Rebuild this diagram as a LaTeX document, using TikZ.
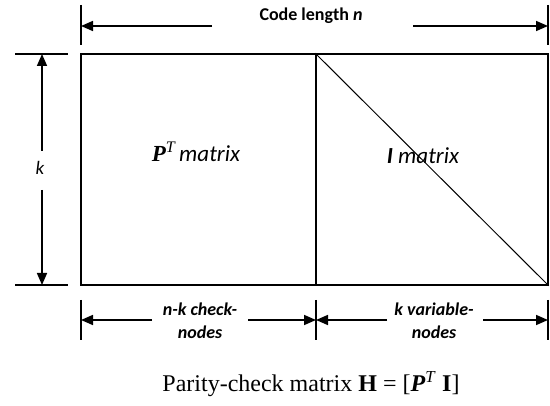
\documentclass[tikz,border=0pt]{standalone}
\usepackage{fontspec}
\setmainfont{Liberation Serif}
\newfontfamily\calibri{Carlito}
\usetikzlibrary{arrows.meta}

\begin{document}
\begin{tikzpicture}[x=1pt, y=-1pt,
        box/.style={rectangle, draw=black, line width=1.6pt, minimum height=231pt, inner sep=0pt},
        dim/.style={-{Triangle[length=12pt, width=10pt]}, line width=1.6pt},
        tick/.style={line width=1.2pt},
        lbl/.style={font=\calibri\fontsize{18}{23}\selectfont\bfseries\itshape, align=center, inner sep=0pt},
        matlabel/.style={font=\calibri\fontsize{23}{26}\selectfont\itshape, inner sep=0pt}
    ]
        \useasboundingbox (0,0) rectangle (550,406);

        \node[box, minimum width=235pt] (ptbox) at (198.5,169.5) {};
        \node[box, minimum width=232pt] (ibox) at (432,169.5) {};
        \draw[line width=1pt] (ibox.north west) -- (ibox.south east);

        \node[matlabel] (ptlabel) at (196,152) {{\rmfamily\bfseries P}\textsuperscript{\rmfamily T}\,matrix};
        \node[matlabel] (ilabel) at (423,156) {{\bfseries I} matrix};

        % code length n
        \node[lbl, font=\calibri\fontsize{18}{23}\selectfont\bfseries] (codelen) at (311,16) {Code length \textit{n}};
        \coordinate (nL) at (81,26);
        \coordinate (nR) at (548,26);
        \coordinate (nLa) at (212,26);
        \coordinate (nRa) at (413,26);
        \draw[tick] (81,5) -- (81,45);
        \draw[tick] (548,5) -- (548,45);
        \draw[dim] (nLa) -- (nL);
        \draw[dim] (nRa) -- (nR);

        % k
        \node[lbl, font=\calibri\fontsize{19}{23}\selectfont\itshape] (klabel) at (40,168) {k};
        \coordinate (kT) at (42,54);
        \coordinate (kB) at (42,285);
        \coordinate (kTa) at (42,151);
        \coordinate (kBa) at (42,190);
        \draw[tick] (15,54) -- (68,54);
        \draw[tick] (15,285) -- (68,285);
        \draw[dim] (kTa) -- (kT);
        \draw[dim] (kBa) -- (kB);

        % check and variable nodes
        \node[lbl] (checklabel) at (200,321) {n-k check-\\nodes};
        \node[lbl] (varlabel) at (434,321) {k variable-\\nodes};
        \coordinate (cL) at (81,320);
        \coordinate (cM) at (316,320);
        \coordinate (cR) at (548,320);
        \draw[tick] (81,300) -- (81,340);
        \draw[tick] (316,300) -- (316,340);
        \draw[tick] (548,300) -- (548,340);
        \draw[dim] (152,320) -- (cL);
        \draw[dim] (248,320) -- (cM);
        \draw[dim] (387,320) -- (cM);
        \draw[dim] (483,320) -- (cR);

        \node[font=\fontsize{24}{28}\selectfont, inner sep=0pt] (caption) at (311,384)
            {Parity-check matrix \textbf{H} = [\textbf{\textit{P}}\textsuperscript{\textit{T}} \textbf{I}]};
    \end{tikzpicture}
\end{document}
